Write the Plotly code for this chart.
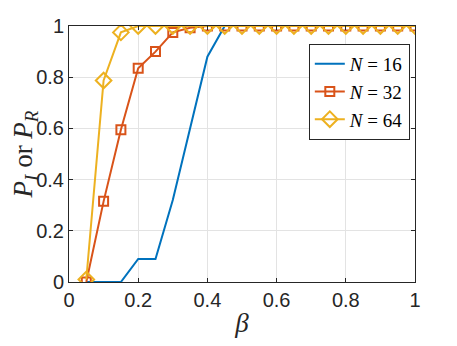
import plotly.graph_objects as go

beta = [0.05, 0.1, 0.15, 0.2, 0.25, 0.3, 0.35, 0.4, 0.45, 0.5,
        0.55, 0.6, 0.65, 0.7, 0.75, 0.8, 0.85, 0.9, 0.95, 1.0]
p_n16 = [0, 0, 0, 0.09, 0.09, 0.32, 0.6, 0.88, 1, 1,
         1, 1, 1, 1, 1, 1, 1, 1, 1, 1]
p_n32 = [0, 0.315, 0.595, 0.835, 0.90, 0.975, 0.993, 1, 1, 1,
         1, 1, 1, 1, 1, 1, 1, 1, 1, 1]
p_n64 = [0.01, 0.787, 0.975, 1, 1, 1, 1, 1, 1, 1,
         1, 1, 1, 1, 1, 1, 1, 1, 1, 1]
ticks = [0, 0.2, 0.4, 0.6, 0.8, 1]
tick_text = ["0", "0.2", "0.4", "0.6", "0.8", "1"]

serif = "Liberation Serif, DejaVu Serif, serif"
sans = "Liberation Sans, Arial, sans-serif"
ink = "#262626"

fig = go.Figure()
fig.add_trace(go.Scatter(x=beta, y=p_n16, mode="lines", name="<i>N</i> = 16",
                         line=dict(color="#0072BD", width=2)))
fig.add_trace(go.Scatter(x=beta, y=p_n32, mode="lines+markers", name="<i>N</i> = 32",
                         line=dict(color="#D95319", width=2),
                         marker=dict(symbol="square-open", size=9, line=dict(width=2))))
fig.add_trace(go.Scatter(x=beta, y=p_n64, mode="lines+markers", name="<i>N</i> = 64",
                         line=dict(color="#EDB120", width=2),
                         marker=dict(symbol="diamond-open", size=12, line=dict(width=2))))

axis = dict(range=[0, 1], tickvals=ticks, ticktext=tick_text, showgrid=True,
            gridcolor="#e3e3e3", zeroline=False, showline=True, linecolor=ink,
            linewidth=1, mirror="ticks", ticks="inside", ticklen=4, tickcolor=ink,
            tickfont=dict(family=sans, size=20, color=ink), automargin=False)

# page body has an 8px margin, so the figure is a bit smaller than the window
fig.update_layout(
    width=441, height=330,
    margin=dict(l=61, r=34, t=18, b=56),
    paper_bgcolor="white", plot_bgcolor="white",
    xaxis=dict(axis, title=dict(text="<i>β</i>", font=dict(family=serif, size=27, color=ink), standoff=4)),
    yaxis=dict(axis, title=dict(text="<i>P<sub>I</sub></i> or <i>P<sub>R</sub></i>",
                                font=dict(family=serif, size=27, color=ink))),
    legend=dict(x=0.985, y=0.93, xanchor="right", yanchor="top",
                bgcolor="white", bordercolor=ink, borderwidth=1, itemwidth=30,
                font=dict(family=serif, size=19, color="black"), tracegroupgap=0),
    showlegend=True,
)

fig.write_html("out.html")
